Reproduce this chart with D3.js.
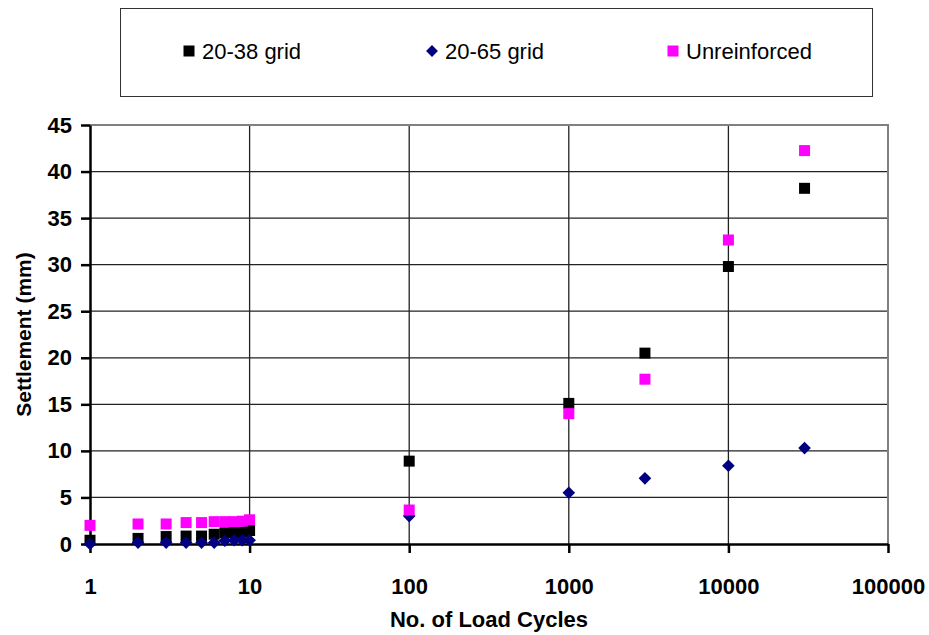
<!DOCTYPE html>
<html>
<head>
<meta charset="utf-8">
<script src="https://cdn.jsdelivr.net/npm/d3@7"></script>
<style>
  body { margin: 0; background: #fff; }
  text { font-family: "Liberation Sans", Arial, sans-serif; }
</style>
</head>
<body>
<div id="chart"></div>
<script>
// data
var cycles = [1, 2, 3, 4, 5, 6, 7, 8, 9, 10, 100, 1000, 3000, 10000, 30000];
var grid2038 = [0.4, 0.6, 0.8, 0.85, 0.85, 1.05, 1.2, 1.25, 1.3, 1.45, 8.9, 15.1, 20.5, 29.8, 38.2];
var grid2065 = [0.0, 0.15, 0.15, 0.15, 0.15, 0.15, 0.35, 0.4, 0.4, 0.4, 3.0, 5.5, 7.05, 8.4, 10.3];
var unreinforced = [2.0, 2.15, 2.15, 2.3, 2.3, 2.4, 2.4, 2.4, 2.45, 2.6, 3.65, 14.0, 17.7, 32.65, 42.25];

var seriesNames = ["20-38 grid", "20-65 grid", "Unreinforced"];
var xTicks = [1, 10, 100, 1000, 10000, 100000];
var yTicks = [0, 5, 10, 15, 20, 25, 30, 35, 40, 45];

// chart parameters
var svgWidth = 929;
var svgHeight = 635;

var margin = { top: 125, right: 41, bottom: 91, left: 90 };
var width = svgWidth - margin.left - margin.right;
var height = svgHeight - margin.top - margin.bottom;

var svg = d3.select("#chart")
    .append("svg")
    .attr("width", svgWidth)
    .attr("height", svgHeight);

var chart = svg.append("g")
    .attr("transform", `translate(${margin.left}, ${margin.top})`);

var xscale = d3.scaleLog()
    .domain([1, 100000])
    .range([0, width]);

var yscale = d3.scaleLinear()
    .domain([0, 45])
    .range([height, 0]);

// gridlines
chart.selectAll(".hgrid")
    .data(yTicks.filter(d => d > 0 && d < 45))
    .enter()
    .append("line")
    .attr("x1", 0)
    .attr("x2", width)
    .attr("y1", d => yscale(d))
    .attr("y2", d => yscale(d))
    .attr("stroke", "#222")
    .attr("stroke-width", 1.3);

chart.selectAll(".vgrid")
    .data(xTicks.filter(d => d > 1 && d < 100000))
    .enter()
    .append("line")
    .attr("x1", d => xscale(d))
    .attr("x2", d => xscale(d))
    .attr("y1", 0)
    .attr("y2", height)
    .attr("stroke", "#222")
    .attr("stroke-width", 1.3);

// plot frame top and right
chart.append("path")
    .attr("d", `M0,0H${width}V${height}`)
    .attr("fill", "none")
    .attr("stroke", "#808080")
    .attr("stroke-width", 2);

// axes
var bottomAxis = d3.axisBottom(xscale)
    .tickValues(xTicks)
    .tickFormat(d3.format("d"))
    .tickSize(9)
    .tickSizeOuter(0)
    .tickPadding(25);
var leftAxis = d3.axisLeft(yscale)
    .tickValues(yTicks)
    .tickSize(9)
    .tickSizeOuter(0)
    .tickPadding(9);

var xAxisG = chart.append("g")
    .attr("transform", `translate(0, ${height})`)
    .call(bottomAxis);
var yAxisG = chart.append("g")
    .call(leftAxis);

[xAxisG, yAxisG].forEach(function (g) {
    g.select(".domain").attr("stroke", "#000").attr("stroke-width", 2.5);
    g.selectAll(".tick line").attr("stroke", "#000").attr("stroke-width", 2.5);
    g.selectAll(".tick text")
        .style("font-family", "'Liberation Sans', Arial, sans-serif")
        .style("font-size", "22px")
        .style("font-weight", "bold")
        .attr("fill", "#000");
});

// axis titles
svg.append("text")
    .attr("x", margin.left + width / 2)
    .attr("y", 627)
    .style("font-size", "22px")
    .style("font-weight", "bold")
    .style("text-anchor", "middle")
    .text("No. of Load Cycles");

svg.append("text")
    .attr("transform", `translate(31, ${margin.top + height / 2}) rotate(-90)`)
    .style("font-size", "21px")
    .style("font-weight", "bold")
    .style("text-anchor", "middle")
    .text("Settlement (mm)");

// markers: squares, and diamonds as rotated squares
var square = d3.symbol().type(d3.symbolSquare).size(121);
var diamond = d3.symbol().type(d3.symbolSquare).size(80);

var series = [
    { name: seriesNames[0], values: grid2038, color: "#000000", shape: square, rot: 0 },
    { name: seriesNames[1], values: grid2065, color: "#000080", shape: diamond, rot: 45 },
    { name: seriesNames[2], values: unreinforced, color: "#FF00FF", shape: square, rot: 0 }
];

series.forEach(function (s) {
    chart.selectAll(null)
        .data(cycles)
        .enter()
        .append("path")
        .attr("d", s.shape)
        .attr("transform", (d, i) => `translate(${xscale(d)}, ${yscale(s.values[i])}) rotate(${s.rot})`)
        .attr("fill", s.color);
});

// legend
svg.append("rect")
    .attr("x", 120.5)
    .attr("y", 8.5)
    .attr("width", 752)
    .attr("height", 88)
    .attr("fill", "#fff")
    .attr("stroke", "#333")
    .attr("stroke-width", 1);

var legendX = [189, 432, 673];
series.forEach(function (s, i) {
    svg.append("path")
        .attr("d", s.rot ? d3.symbol().type(d3.symbolSquare).size(70)() : square())
        .attr("transform", `translate(${legendX[i]}, 51) rotate(${s.rot})`)
        .attr("fill", s.color);
    svg.append("text")
        .attr("x", legendX[i] + 13)
        .attr("y", 59)
        .style("font-size", "22px")
        .text(s.name);
});
</script>
</body>
</html>
